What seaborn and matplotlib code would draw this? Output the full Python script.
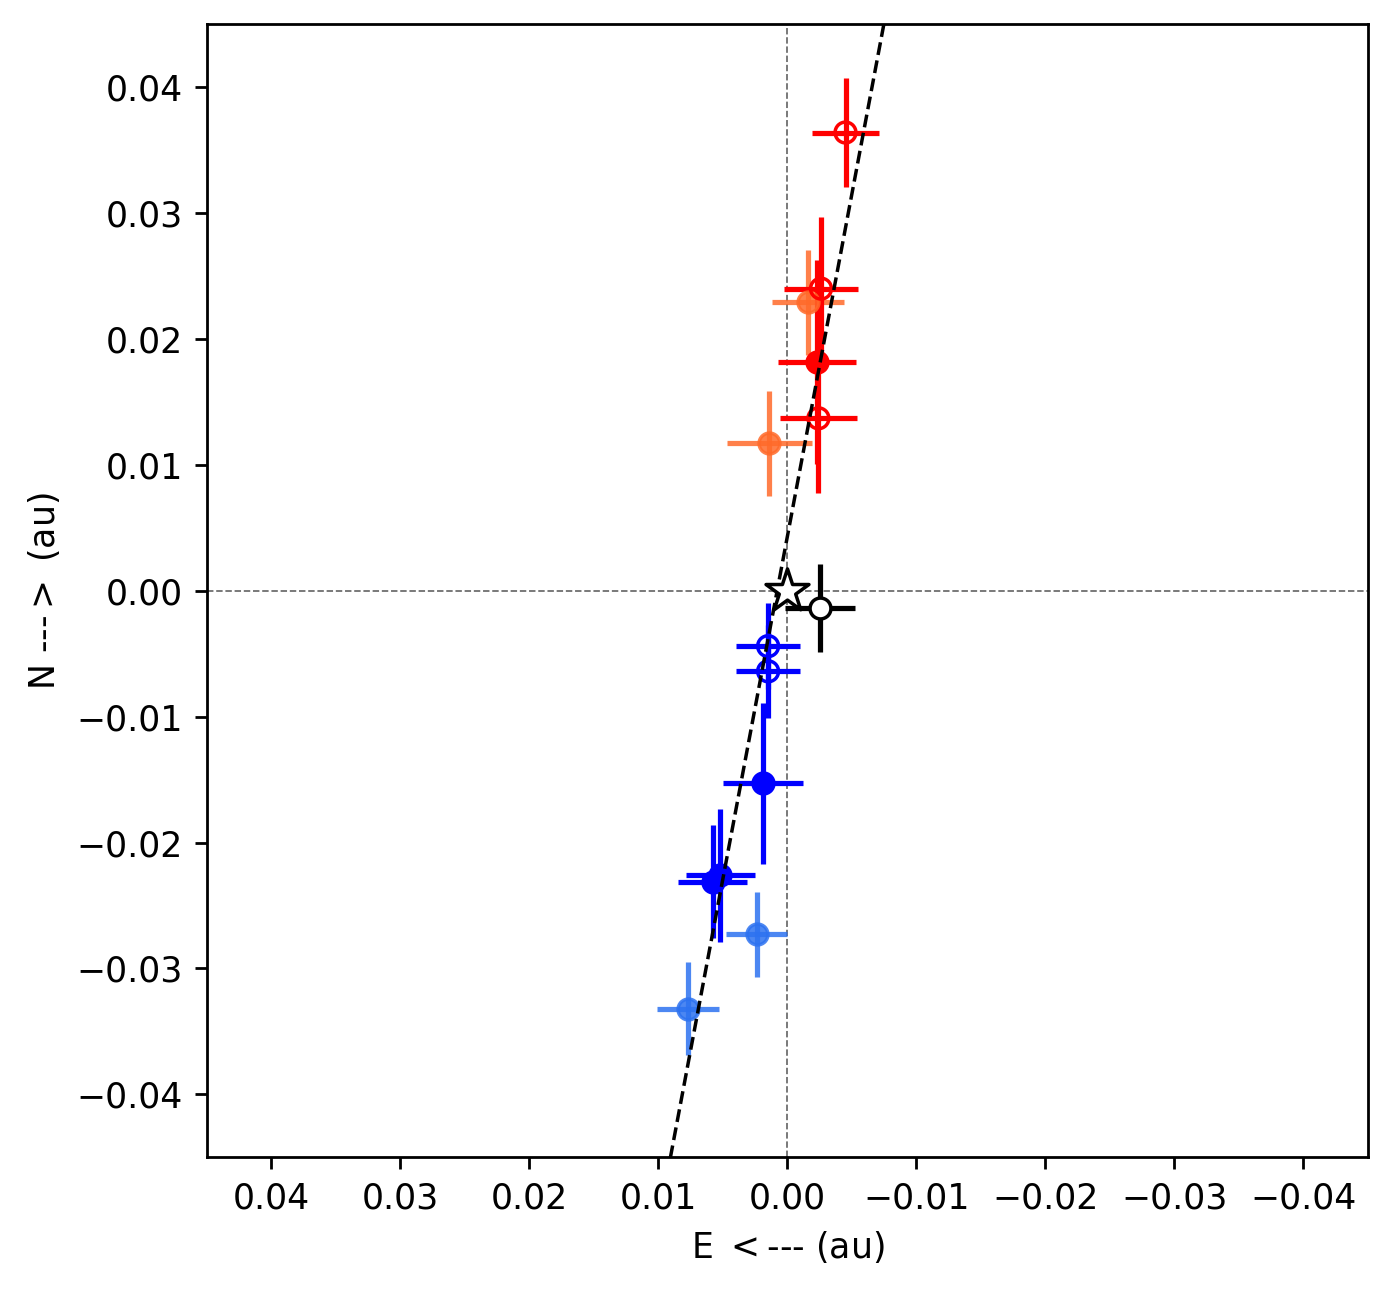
import numpy as np
import pandas as pd
import matplotlib
matplotlib.use("Agg")
import matplotlib.pyplot as plt
import seaborn as sns

sns.set_style("ticks")
plt.rcParams.update({
    "font.family": ["DejaVu Sans"],
    "axes.edgecolor": "black",
    "xtick.color": "black",
    "ytick.color": "black",
    "axes.labelcolor": "black",
    "text.color": "black",
    "xtick.direction": "out",
    "ytick.direction": "out",
})

# ---- data (offsets in au) ----
red_open_x = [-0.0045, -0.0026, -0.0024]
red_open_y = [0.0364, 0.0240, 0.0137]
red_open_xerr = [0.0026, 0.0029, 0.0030]
red_open_yerr = [0.0043, 0.0057, 0.0059]

red_fill_x = [-0.0023]
red_fill_y = [0.0182]
red_fill_xerr = [0.0030]
red_fill_yerr = [0.0081]

orange_x = [-0.0016, 0.0014]
orange_y = [0.0229, 0.0117]
orange_xerr = [0.0028, 0.0033]
orange_yerr = [0.0042, 0.0042]

blue_open_x = [0.0015, 0.0015]
blue_open_y = [-0.0044, -0.0064]
blue_open_xerr = [0.0025, 0.0025]
blue_open_yerr = [0.0034, 0.0037]

blue_fill_x = [0.0019, 0.0058, 0.0052]
blue_fill_y = [-0.0153, -0.0231, -0.0226]
blue_fill_xerr = [0.0031, 0.0027, 0.0027]
blue_fill_yerr = [0.0064, 0.0045, 0.0053]

lblue_x = [0.0024, 0.0077]
lblue_y = [-0.0273, -0.0332]
lblue_xerr = [0.0024, 0.0024]
lblue_yerr = [0.0034, 0.0037]

black_x = [-0.0025]
black_y = [-0.00135]
black_xerr = [0.0027]
black_yerr = [0.0035]

star_x = [0.0]
star_y = [0.0]

# linear fit: y = slope * (x - x0)
fit_slope = -5.44
fit_x0 = 0.0008

ticks = [0.04, 0.03, 0.02, 0.01, 0.0, -0.01, -0.02, -0.03, -0.04]

fig, ax = plt.subplots(figsize=(5.572, 5.16), dpi=250)
fig.subplots_adjust(left=0.1486, right=0.982, top=0.9812, bottom=0.1029)

ax.axhline(0, color="dimgray", ls="--", lw=0.5, zorder=0)
ax.axvline(0, color="dimgray", ls="--", lw=0.5, zorder=0)

groups = [
    # x, y, xerr, yerr, colour, alpha, filled
    (orange_x, orange_y, orange_xerr, orange_yerr, "#ff6a2a", 0.85, True),
    (lblue_x, lblue_y, lblue_xerr, lblue_yerr, "#2d72f0", 0.85, True),
    (red_open_x, red_open_y, red_open_xerr, red_open_yerr, "red", 1.0, False),
    (red_fill_x, red_fill_y, red_fill_xerr, red_fill_yerr, "red", 1.0, True),
    (blue_open_x, blue_open_y, blue_open_xerr, blue_open_yerr, "blue", 1.0, False),
    (blue_fill_x, blue_fill_y, blue_fill_xerr, blue_fill_yerr, "blue", 1.0, True),
]

for gx, gy, gxe, gye, col, a, filled in groups:
    ax.errorbar(gx, gy, xerr=gxe, yerr=gye, fmt="none", ecolor=col,
                elinewidth=1.5, alpha=a, zorder=2)
    df = pd.DataFrame({"x": gx, "y": gy})
    if filled:
        sns.scatterplot(data=df, x="x", y="y", ax=ax, color=col, s=36,
                        edgecolor=col, linewidth=1.0, alpha=a, zorder=3)
    else:
        sns.scatterplot(data=df, x="x", y="y", ax=ax, s=36,
                        facecolors="none", edgecolor=col, linewidth=1.0,
                        alpha=a, zorder=3)

# fit line
ax.axline((fit_x0, 0.0), slope=fit_slope, color="black", ls="--", lw=1, zorder=4)

# black point
ax.errorbar(black_x, black_y, xerr=black_xerr, yerr=black_yerr, fmt="none",
            ecolor="black", elinewidth=1.5, zorder=5)
sns.scatterplot(x=black_x, y=black_y, ax=ax, s=36, color="white",
                edgecolor="black", linewidth=1.0, zorder=6)

# star
sns.scatterplot(x=star_x, y=star_y, ax=ax, marker="*", s=13 ** 2,
                color="white", edgecolor="black", linewidth=1.0, zorder=7)

ax.set_xlim(0.045, -0.045)
ax.set_ylim(-0.045, 0.045)
ax.set_xticks(ticks)
ax.set_yticks(ticks[::-1])
ax.set_xlabel("E $<$--- (au)", fontsize=10)
ax.set_ylabel("N ---$>$ (au)", fontsize=10)
ax.tick_params(labelsize=10)

fig.savefig("out.png", dpi=250)
